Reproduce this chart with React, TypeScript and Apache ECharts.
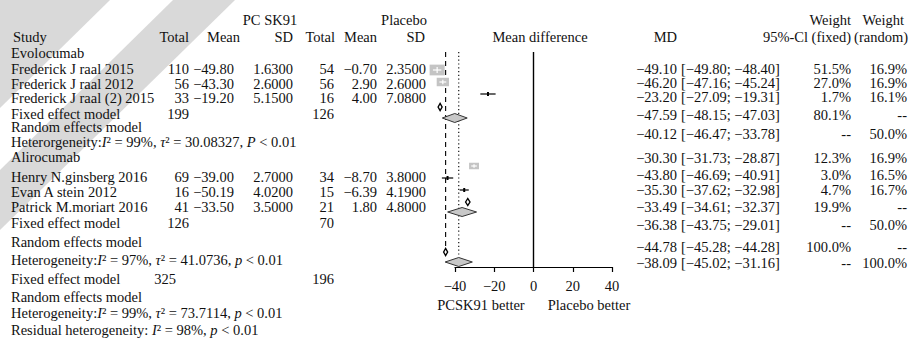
import React, { useEffect, useRef } from "react";
import * as echarts from "echarts";

const W = 919;
const H = 347;
const SERIF = "'Liberation Serif', 'Times New Roman', serif";
const FS = 14.5;
const INK = "#111";

// ---------------- data ----------------
const groupNames = ["Evolocumab", "Alirocumab"];
const studyNames = [
  "Frederick J raal 2015",
  "Frederick J raal 2012",
  "Frederick J raal (2) 2015",
  "Henry N.ginsberg 2016",
  "Evan A stein 2012",
  "Patrick M.moriart 2016",
];
const pcskTotal = [110, 56, 33, 69, 16, 41];
const pcskMean = [-49.8, -43.3, -19.2, -39.0, -50.19, -33.5];
const pcskSD = [1.63, 2.6, 5.15, 2.7, 4.02, 3.5];
const placTotal = [54, 56, 16, 34, 15, 21];
const placMean = [-0.7, 2.9, 4.0, -8.7, -6.39, 1.8];
const placSD = [2.35, 2.6, 7.08, 3.8, 4.19, 4.8];
const groupPcskTotal = [199, 126];
const groupPlacTotal = [126, 70];
const overallTotal = [325, 196];
const hetLines = [
  "Heterorgeneity:{i|I}² = 99%, {i|τ}² = 30.08327, {i|P} < 0.01",
  "Heterogeneity:{i|I}² = 97%, {i|τ}² = 41.0736, {i|p} < 0.01",
  "Heterogeneity:{i|I}² = 99%, {i|τ}² = 73.7114, {i|p} < 0.01",
  "Residual heterogeneity: {i|I}² = 98%, {i|p} < 0.01",
];

// effect rows: 0 = study, 1 = fixed effect, 2 = random effects
const effKind = [0, 0, 0, 1, 2, 0, 0, 0, 1, 2, 1, 2];
const effMD = [-49.1, -46.2, -23.2, -47.59, -40.12, -30.3, -43.8, -35.3, -33.49, -36.38, -44.78, -38.09];
const effLow = [-49.8, -47.16, -27.09, -48.15, -46.47, -31.73, -46.69, -37.62, -34.61, -43.75, -45.28, -45.02];
const effHigh = [-48.4, -45.24, -19.31, -47.03, -33.78, -28.87, -40.91, -32.98, -32.37, -29.01, -44.28, -31.16];
const weightFixed = [51.5, 27.0, 1.7, 80.1, null, 12.3, 3.0, 4.7, 19.9, null, 100.0, null];
const weightRandom = [16.9, 16.9, 16.1, null, 50.0, 16.9, 16.5, 16.7, null, 50.0, null, 100.0];
const xTicks = [-40, -20, 0, 20, 40];
const sideLabels = ["PCSK91 better", "Placebo better"];

// ---------------- layout (pixels) ----------------
const HDR1_Y = 20;
const HDR2_Y = 37;
const LEFT_Y = [53, 69, 84, 98, 114, 127, 142, 157, 177, 192, 207, 223, 242, 260, 279, 297, 313, 330];
const RIGHT_Y = [69, 83, 97, 115, 134, 158, 175, 190, 207, 225, 247, 263];
const MARK_Y = [70, 82, 94, 107, 118, 166, 178, 190, 202, 212, 252, 262];
const REF_TOP = 52;
const REF_BOTTOM = [267, 249, 256];
const COL = {
  name: 11, total1: 189, mean1: 234, sd1: 293, total2: 334, mean2: 377, sd2: 426,
  md: 677, ci: 681, wf: 851, wr: 907, overallTotal1: 176,
};
const GRID = { left: 455, width: 157, top: 0, height: 267 };
const WATERMARK = [
  [[0, 0], [110, 0], [0, 108]],
  [[173, 0], [235, 0], [0, 230], [0, 170]],
];

const fmt = (v: number, d: number) => (v < 0 ? "\u2212" : "") + Math.abs(v).toFixed(d);
const pct = (v: number | null) => (v === null ? "--" : v.toFixed(1) + "%");

function txt(text: string, x: number, y: number, align: string = "left", rich = false): any {
  const style: any = {
    text,
    x: 0,
    y: 0,
    fill: INK,
    font: `${FS}px ${SERIF}`,
    textAlign: align,
    textVerticalAlign: "middle",
  };
  if (rich) {
    style.rich = {
      i: { fontStyle: "italic", fontSize: FS, fontFamily: SERIF, fill: INK, color: INK },
    };
  }
  return { type: "text", x, y, z: 20, style };
}

function buildGraphics(): any[] {
  const g: any[] = [];
  WATERMARK.forEach((pts) =>
    g.push({ type: "polygon", z: 0, silent: true, shape: { points: pts }, style: { fill: "#d9d9d9" } })
  );

  // headers
  g.push(txt("PC SK91", 270, HDR1_Y, "center"));
  g.push(txt("Placebo", 427, HDR1_Y, "right"));
  g.push(txt("Weight", 851, HDR1_Y, "right"));
  g.push(txt("Weight", 904, HDR1_Y, "right"));
  g.push(txt("Study", 13, HDR2_Y));
  g.push(txt("Total", 189, HDR2_Y, "right"));
  g.push(txt("Mean", 240, HDR2_Y, "right"));
  g.push(txt("SD", 293, HDR2_Y, "right"));
  g.push(txt("Total", 335, HDR2_Y, "right"));
  g.push(txt("Mean", 377, HDR2_Y, "right"));
  g.push(txt("SD", 425, HDR2_Y, "right"));
  g.push(txt("Mean difference", 540, HDR2_Y, "center"));
  g.push(txt("MD", 677, HDR2_Y, "right"));
  g.push(txt("95%-Cl", 808, HDR2_Y, "right"));
  g.push(txt("(fixed)", 851, HDR2_Y, "right"));
  g.push(txt("(random)", 908, HDR2_Y, "right"));

  // left table
  let r = 0;
  const studyRow = (i: number) => {
    const y = LEFT_Y[r++];
    g.push(txt(studyNames[i], COL.name, y));
    g.push(txt(String(pcskTotal[i]), COL.total1, y, "right"));
    g.push(txt(fmt(pcskMean[i], 2), COL.mean1, y, "right"));
    g.push(txt(pcskSD[i].toFixed(4), COL.sd1, y, "right"));
    g.push(txt(String(placTotal[i]), COL.total2, y, "right"));
    g.push(txt(fmt(placMean[i], 2), COL.mean2, y, "right"));
    g.push(txt(placSD[i].toFixed(4), COL.sd2, y, "right"));
  };
  for (let gi = 0; gi < 2; gi++) {
    g.push(txt(groupNames[gi], COL.name, LEFT_Y[r++]));
    for (let k = 0; k < 3; k++) studyRow(gi * 3 + k);
    let y = LEFT_Y[r++];
    g.push(txt("Fixed effect model", COL.name, y));
    g.push(txt(String(groupPcskTotal[gi]), COL.total1, y, "right"));
    g.push(txt(String(groupPlacTotal[gi]), COL.total2, y, "right"));
    g.push(txt("Random effects model", COL.name, LEFT_Y[r++]));
    g.push(txt(hetLines[gi], COL.name, LEFT_Y[r++], "left", true));
  }
  let y = LEFT_Y[r++];
  g.push(txt("Fixed effect model", COL.name, y));
  g.push(txt(String(overallTotal[0]), COL.overallTotal1, y, "right"));
  g.push(txt(String(overallTotal[1]), COL.total2, y, "right"));
  g.push(txt("Random effects model", COL.name, LEFT_Y[r++]));
  g.push(txt(hetLines[2], COL.name, LEFT_Y[r++], "left", true));
  g.push(txt(hetLines[3], COL.name, LEFT_Y[r++], "left", true));

  // right table
  for (let i = 0; i < effMD.length; i++) {
    const yy = RIGHT_Y[i];
    g.push(txt(fmt(effMD[i], 2), COL.md, yy, "right"));
    g.push(txt(`[${fmt(effLow[i], 2)}; ${fmt(effHigh[i], 2)}]`, COL.ci, yy, "left"));
    g.push(txt(pct(weightFixed[i]), COL.wf, yy, "right"));
    g.push(txt(pct(weightRandom[i]), COL.wr, yy, "right"));
  }

  // axis side labels
  g.push(txt(sideLabels[0], 481, 305, "center"));
  g.push(txt(sideLabels[1], 589, 305, "center"));
  return g;
}

function renderMarker(params: any, api: any) {
  const md = api.value(0);
  const lo = api.value(1);
  const hi = api.value(2);
  const y = api.value(3);
  const w = api.value(4);
  const kind = api.value(5);
  const pm = api.coord([md, y]);
  const pl = api.coord([lo, y]);
  const ph = api.coord([hi, y]);
  const children: any[] = [];
  if (kind === 0) {
    children.push({
      type: "line",
      shape: { x1: pl[0], y1: pm[1], x2: ph[0], y2: pm[1] },
      style: { stroke: "#000", lineWidth: 1.2 },
    });
    if (w > 10) {
      const sw = 5 + 1.4 * Math.sqrt(w);
      const sh = 2.5 + 1.15 * Math.sqrt(w);
      children.push({
        type: "rect",
        shape: { x: pm[0] - sw / 2, y: pm[1] - sh / 2, width: sw, height: sh },
        style: { fill: "#c4c4c4" },
      });
      children.push({
        type: "line",
        shape: { x1: pm[0] - sw * 0.28, y1: pm[1], x2: pm[0] + sw * 0.28, y2: pm[1] },
        style: { stroke: "#fff", lineWidth: 1.2 },
      });
      children.push({
        type: "line",
        shape: { x1: pm[0], y1: pm[1] - sh * 0.28, x2: pm[0], y2: pm[1] + sh * 0.28 },
        style: { stroke: "#fff", lineWidth: 1.2 },
      });
    } else {
      children.push({
        type: "rect",
        shape: { x: pm[0] - 1, y: pm[1] - 2, width: 2, height: 4 },
        style: { fill: "#000" },
      });
    }
  } else {
    const half = Math.max((ph[0] - pl[0]) / 2, 2);
    const hh = kind === 1 ? 3.5 : 4.5;
    const cx = (pl[0] + ph[0]) / 2;
    children.push({
      type: "polygon",
      shape: {
        points: [
          [cx - half, pm[1]],
          [cx, pm[1] - hh],
          [cx + half, pm[1]],
          [cx, pm[1] + hh],
        ],
      },
      style:
        kind === 1
          ? { fill: "#fff", stroke: "#000", lineWidth: 1.4 }
          : { fill: "#c8c8c8", stroke: "#333", lineWidth: 1 },
    });
  }
  return { type: "group", children };
}

function renderRef(params: any, api: any) {
  const x = api.value(0);
  const top = api.coord([x, api.value(1)]);
  const bot = api.coord([x, api.value(2)]);
  const k = api.value(3);
  const style: any = { stroke: "#000", lineWidth: k === 0 ? 1.4 : 1.1 };
  if (k === 1) style.lineDash = [5, 4];
  if (k === 2) style.lineDash = [1.2, 2.6];
  return { type: "line", shape: { x1: top[0], y1: top[1], x2: bot[0], y2: bot[1] }, style };
}

export default function App() {
  const ref = useRef<HTMLDivElement>(null);
  useEffect(() => {
    if (!ref.current) return;
    const chart = echarts.init(ref.current, null, { renderer: "svg" });
    const markerData = effMD.map((m, i) => [m, effLow[i], effHigh[i], MARK_Y[i], weightFixed[i] ?? 0, effKind[i]]);
    const refData = [
      [0, REF_TOP, REF_BOTTOM[0], 0],
      [effMD[10], REF_TOP, REF_BOTTOM[1], 1],
      [effMD[11], REF_TOP, REF_BOTTOM[2], 2],
    ];
    chart.setOption({
      animation: false,
      backgroundColor: "#fff",
      textStyle: { fontFamily: SERIF },
      grid: { left: GRID.left, width: GRID.width, top: GRID.top, height: GRID.height },
      xAxis: {
        type: "value",
        min: xTicks[0],
        max: xTicks[xTicks.length - 1],
        interval: xTicks[1] - xTicks[0],
        position: "bottom",
        axisLine: { show: true, onZero: false, lineStyle: { color: "#000", width: 1.2 } },
        axisTick: { show: true, length: 5, lineStyle: { color: "#000", width: 1.2 } },
        axisLabel: {
          margin: 11,
          color: INK,
          fontFamily: SERIF,
          fontSize: FS,
          formatter: (v: number) => (v < 0 ? "\u2212" + Math.abs(v) : String(v)),
        },
        splitLine: { show: false },
      },
      yAxis: { type: "value", min: 0, max: GRID.height, inverse: true, show: false },
      graphic: { elements: buildGraphics() },
      series: [
        { type: "custom", renderItem: renderRef, data: refData, clip: false, z: 3, silent: true },
        { type: "custom", renderItem: renderMarker, data: markerData, clip: false, z: 5, silent: true },
      ],
    });
    return () => chart.dispose();
  }, []);
  return <div ref={ref} style={{ position: "fixed", left: 0, top: 0, width: W, height: H }} />;
}
